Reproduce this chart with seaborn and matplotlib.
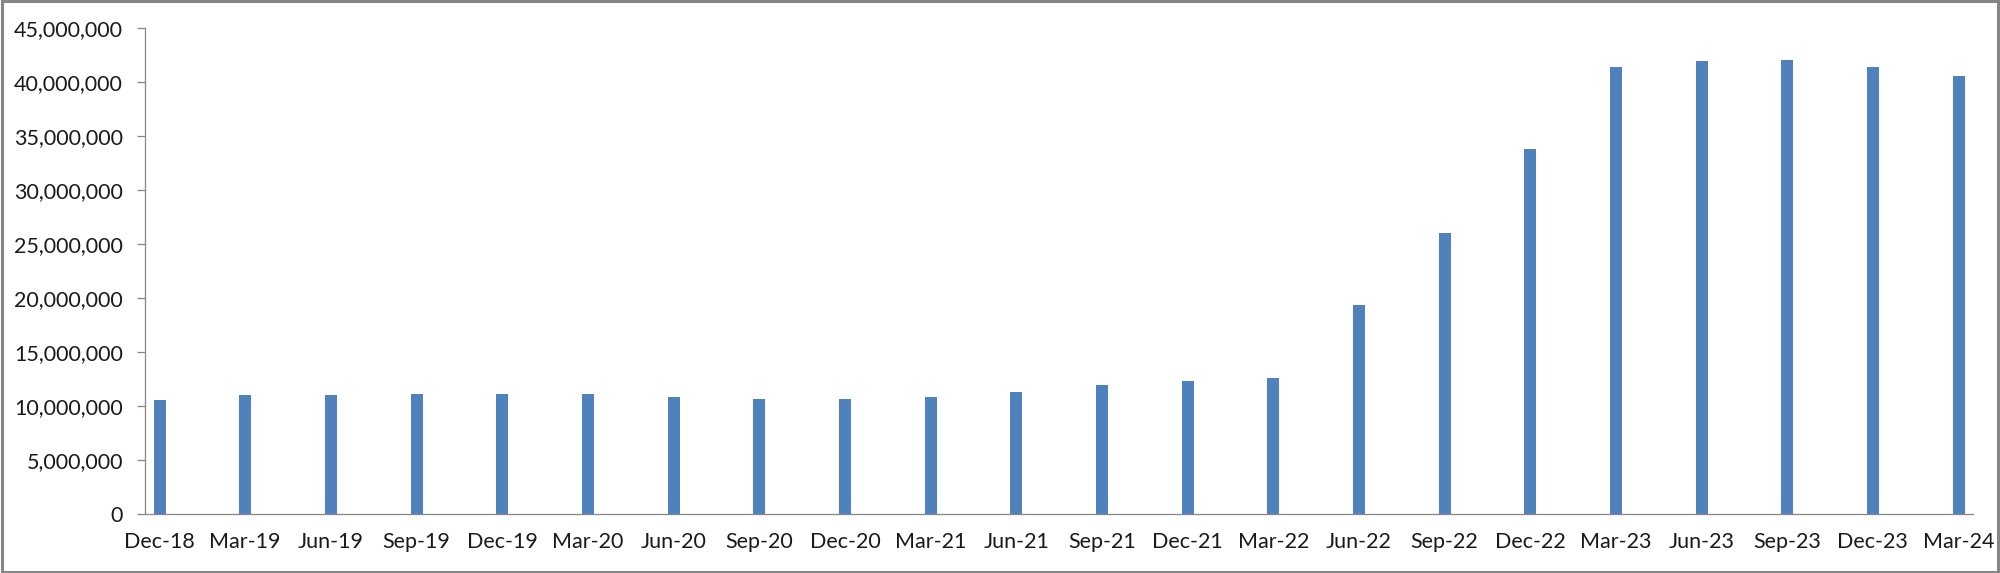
import numpy as np
import pandas as pd
import matplotlib
matplotlib.use("Agg")
import matplotlib.pyplot as plt
from matplotlib.ticker import FuncFormatter, MultipleLocator
from matplotlib.patches import Rectangle
import seaborn as sns

quarters = ["Dec-18", "Mar-19", "Jun-19", "Sep-19", "Dec-19", "Mar-20", "Jun-20",
            "Sep-20", "Dec-20", "Mar-21", "Jun-21", "Sep-21", "Dec-21", "Mar-22",
            "Jun-22", "Sep-22", "Dec-22", "Mar-23", "Jun-23", "Sep-23", "Dec-23", "Mar-24"]
values = [10600000, 11000000, 11000000, 11090000, 11090000, 11090000, 10790000,
          10660000, 10660000, 10790000, 11300000, 11960000, 12270000, 12550000,
          19340000, 25990000, 33800000, 41430000, 41960000, 42050000, 41430000, 40600000]

sns.set_style("white")
plt.rcParams["font.family"] = ["Lato", "DejaVu Sans"]

df = pd.DataFrame({"quarter": quarters, "value": values})

fig = plt.figure(figsize=(20, 5.73), dpi=100)
ax = fig.add_axes([145 / 2000, 59 / 573, (1973 - 145) / 2000, (514 - 28) / 573])

sns.barplot(data=df, x="quarter", y="value", ax=ax, color="#4F81BD",
            width=0.14, saturation=1, linewidth=0)

grey = "#868686"
off = 0.170
n = len(quarters)
ax.set_xlim(-off, n - 1 - off + 0.339)
ax.set_ylim(0, 45000000)
ax.yaxis.set_major_locator(MultipleLocator(5000000))
ax.yaxis.set_major_formatter(FuncFormatter(lambda v, p: f"{v:,.0f}"))

ax.set_xticks(np.arange(n))
ax.set_xticklabels(quarters)
ax.set_xticks(np.arange(n) - off, minor=True)
ax.tick_params(axis="x", which="major", length=0, pad=13, labelsize=15.5, labelcolor="#1a1a1a")
ax.tick_params(axis="x", which="minor", length=5.8, width=0.9, color=grey, direction="out")
ax.tick_params(axis="y", which="major", length=5.8, width=0.9, color=grey, pad=10,
               labelsize=15.5, labelcolor="#1a1a1a", left=True)

ax.set_xlabel("")
ax.set_ylabel("")
for s in ["top", "right"]:
    ax.spines[s].set_visible(False)
for s in ["left", "bottom"]:
    ax.spines[s].set_color(grey)
    ax.spines[s].set_linewidth(0.9)
ax.grid(False)

fig.patches.append(Rectangle((0.001, 0.002), 0.998, 0.996, transform=fig.transFigure,
                             fill=False, edgecolor=grey, linewidth=2.2))

fig.savefig("out.png", dpi=100, facecolor="white")
